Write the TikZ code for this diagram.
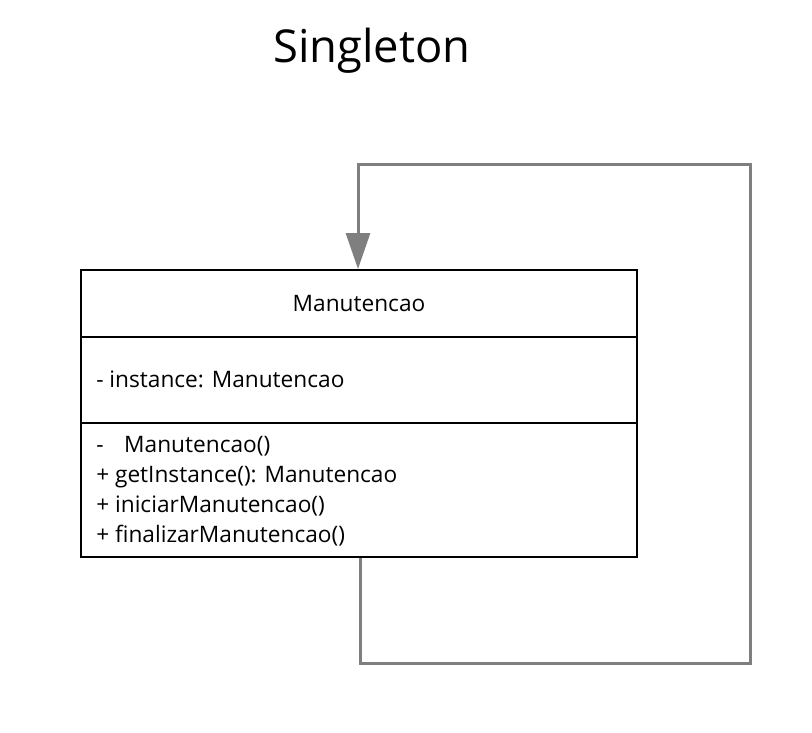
\documentclass[tikz,border=0pt]{standalone}
\usepackage{fontspec}
\setmainfont{Open Sans}
\usetikzlibrary{arrows.meta}
\definecolor{conn}{HTML}{7F7F7F}
\tikzset{
  px/.style={x=0.75pt,y=-0.75pt},
  classbox/.style={draw=black,line width=1.5pt,minimum width=556*0.75pt,minimum height=287*0.75pt,inner sep=0pt},
  divider/.style={draw=black,line width=1.5pt},
  bodyfont/.style={font=\fontsize{17}{20}\selectfont},
  member/.style={bodyfont,anchor=base west,inner sep=0pt},
  conn/.style={draw=conn,line width=2.25pt},
  titletext/.style={font=\fontsize{34}{40}\selectfont,anchor=base,inner sep=0pt},
}
\begin{document}
\begin{tikzpicture}[px]
\useasboundingbox (0,0) rectangle (812,732);
\node[titletext] (title) at (372,62) {Singleton};
\node[classbox] (cls) at (359,413.5) {};
\node[bodyfont,anchor=base,inner sep=0pt] (name) at (359,311) {Manutencao};
\draw[divider] (81,337) -- (637,337);
\draw[divider] (81,423) -- (637,423);
\node[member] (attr) at (96,387) {- instance: Manutencao};
\node[member] (m1) at (96,452) {-\hspace{15.5pt}Manutencao()};
\node[member] (m2) at (96,482) {+ getInstance(): Manutencao};
\node[member] (m3) at (96,512) {+ iniciarManutencao()};
\node[member] (m4) at (96,542) {+ finalizarManutencao()};
\coordinate (b1) at (360,663);
\coordinate (b2) at (750,663);
\coordinate (b3) at (750,164);
\coordinate (b4) at (358,164);
\draw[conn,-{Triangle[length=27pt,width=18pt]}] ([xshift=0.75pt]cls.south) -- (b1) -- (b2) -- (b3) -- (b4) -- ([xshift=-0.75pt]cls.north);
\end{tikzpicture}
\end{document}
